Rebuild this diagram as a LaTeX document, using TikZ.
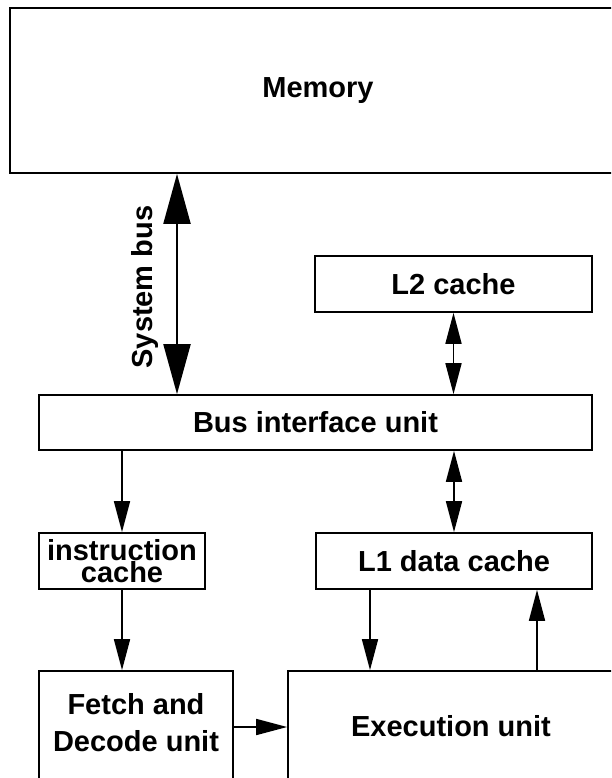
\documentclass[tikz,border=0pt]{standalone}
\usepackage{fontspec}
\setmainfont{Liberation Sans}
\usetikzlibrary{arrows.meta}
\newcommand\blocklabelfont{\bfseries\fontsize{29}{37}\selectfont}
\begin{document}
\begin{tikzpicture}[x=1pt,y=-1pt,
  box/.style={draw, line width=1.7pt, inner sep=0pt, align=center, font=\blocklabelfont},
  lbl/.style={inner sep=0pt, align=center, font=\blocklabelfont},
  link/.style={line width=1.7pt, -{Triangle[width=16pt,length=31pt]}},
  duplex/.style={line width=1.7pt, {Triangle[width=16pt,length=31pt]}-{Triangle[width=16pt,length=31pt]}},
  busarrow/.style={line width=2pt, {Triangle[width=27pt,length=50pt]}-{Triangle[width=27pt,length=50pt]}}]
  % page frame
  \fill[white] (0,0) rectangle (611,778);
  \useasboundingbox (0,0) rectangle (611,778);
  \clip (0,0) rectangle (611,778);

  % blocks
  \node[box, minimum width=616pt, minimum height=165pt] (memory) at (318,90.5) {Memory};
  \node[box, minimum width=277pt, minimum height=56pt] (l2) at (453.5,284) {L2 cache};
  \node[box, minimum width=553pt, minimum height=55pt] (biu) at (315.5,422.5) {Bus interface unit};
  \node[box, minimum width=166pt, minimum height=56pt,
        font=\bfseries\fontsize{29}{20}\selectfont] (icache) at (122,561) {instruction\\cache};
  \node[box, minimum width=276pt, minimum height=56pt] (l1) at (454,561) {L1 data cache};
  \node[box, minimum width=194pt, minimum height=129pt] (fetch) at (136,735.5) {};
  \node[lbl] (fetchtext) at (136,723) {Fetch and\\Decode unit};
  \node[box, minimum width=326pt, minimum height=110pt] (exec) at (451,726) {Execution unit};

  % system bus
  \coordinate (busx) at (177,0);
  \node[lbl, rotate=90] (buslabel) at (145,287) {System bus};
  \draw[busarrow] (busx |- memory.south) -- (busx |- biu.north);

  % connections
  \draw[duplex] (l2.south) -- (l2.south |- biu.north);
  \draw[duplex] (l1.north |- biu.south) -- (l1.north);
  \draw[link] (icache.north |- biu.south) -- (icache.north);
  \draw[link] (icache.south) -- (icache.south |- fetch.north);
  \coordinate (fy) at (0,727);
  \draw[link] (fetch.east |- fy) -- (exec.west |- fy);
  \draw[link] ([xshift=-84pt]l1.south) -- ([xshift=-84pt]l1.south |- exec.north);
  \draw[link] ([xshift=83pt]l1.south |- exec.north) -- ([xshift=83pt]l1.south);
\end{tikzpicture}
\end{document}
